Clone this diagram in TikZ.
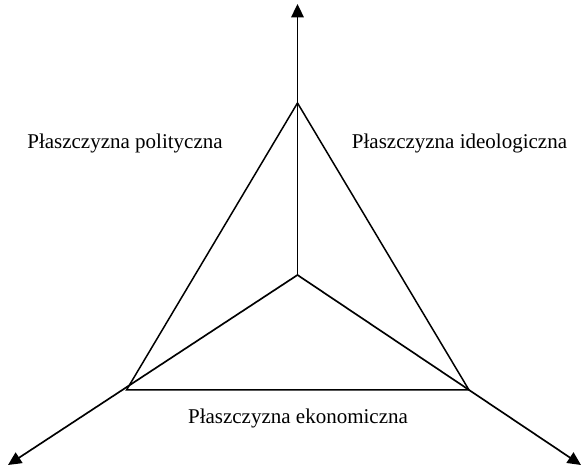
\documentclass[tikz,border=0pt]{standalone}
\usepackage{fontspec}
\setmainfont{Liberation Serif}
\usetikzlibrary{positioning,arrows.meta,calc}
\tikzset{
  axis/.style={line width=1pt, draw=black, -{Triangle[width=7.5pt,length=8pt]}},
  edge/.style={line width=0.9pt, draw=black},
  plane/.style={font=\fontsize{12.6}{15}\selectfont, inner sep=0pt}
}
\begin{document}
\begin{tikzpicture}[x=0.6pt, y=-0.6pt]
    \useasboundingbox (0,0) rectangle (583,468);
    \coordinate (c0) at (297.5,275);
    \coordinate (top) at (297.5,4);
    \coordinate (left) at (8,465);
    \coordinate (right) at (581,465);
    \coordinate (vtop) at (297.5,103);
    \coordinate (vleft) at (126.5,390);
    \coordinate (vright) at (469,390);

    \draw[axis] (c0) -- (top);
    \draw[axis] (c0) -- (left);
    \draw[axis] (c0) -- (right);

    \draw[edge] (vtop) -- (vleft) -- (vright) -- cycle;

    \node[plane] (pol) at (125,143) {Płaszczyzna polityczna};
    \node[plane] (ideo) at (459.5,143) {Płaszczyzna ideologiczna};
    \node[plane] (eko) at (298,418) {Płaszczyzna ekonomiczna};
\end{tikzpicture}
\end{document}
